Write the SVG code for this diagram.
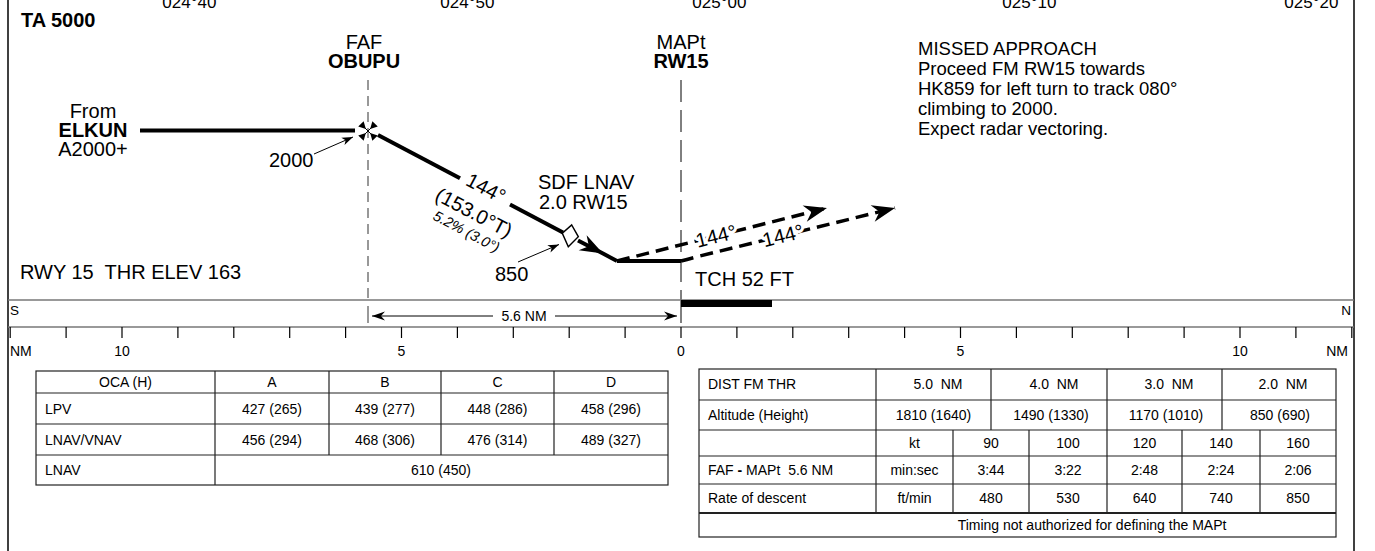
<svg xmlns="http://www.w3.org/2000/svg" width="1375" height="551" viewBox="0 0 1375 551">
<style>
text{font-family:"Liberation Sans",Arial,sans-serif;fill:#000}
.lab{font-size:20px}
.b{font-weight:bold}
.coord{font-size:17px;text-anchor:middle}
.ma{font-size:18.5px}
.sc{font-size:14px}
.t{font-size:14px}
.m{text-anchor:middle}
.halo{paint-order:stroke;stroke:#fff;stroke-width:6px;stroke-linejoin:round}
.tbl{fill:none;stroke:#222;stroke-width:1.2}
.thick{fill:none;stroke:#000;stroke-width:4}
.dash{fill:none;stroke:#000;stroke-width:3.5;stroke-dasharray:13 7}
.thin{fill:none;stroke:#000;stroke-width:1}
.gray{fill:none;stroke:#777;stroke-width:1.5}
</style>
<defs>
<marker id="ah" markerUnits="userSpaceOnUse" markerWidth="30" markerHeight="20" viewBox="-24 -10 26 20" refX="0" refY="0" orient="auto"><path d="M0,0 L-23,-8.5 L-16,0 L-23,8.5 Z" fill="#000"/></marker>
<marker id="as" markerUnits="userSpaceOnUse" markerWidth="14" markerHeight="10" viewBox="-12 -5 13 10" refX="0" refY="0" orient="auto"><path d="M0,0 L-11,-4 L-8,0 L-11,4 Z" fill="#000"/></marker>
<marker id="ad" markerUnits="userSpaceOnUse" markerWidth="16" markerHeight="10" viewBox="-14 -5 15 10" refX="0" refY="0" orient="auto-start-reverse"><path d="M0,0 L-13,-4.5 L-9,0 L-13,4.5 Z" fill="#000"/></marker>
<g id="ftri"><path d="M-3,0 L-10,-3.8 L-10,3.8 Z" fill="#000"/></g>
</defs>

<g id="frame">
<line x1="8" y1="0" x2="8" y2="551" stroke="#000" stroke-width="1.5"/>
<line x1="1354" y1="0" x2="1354" y2="551" stroke="#000" stroke-width="1.5"/>
</g>

<g id="coords">
<text class="coord" x="191" y="8">024°40'</text>
<text class="coord" x="469" y="8">024°50'</text>
<text class="coord" x="721" y="8">025°00'</text>
<text class="coord" x="1031" y="8">025°10'</text>
<text class="coord" x="1313" y="8">025°20'</text>
</g>

<g id="ta"><text class="lab b" x="21" y="27">TA 5000</text></g>

<g id="connectors">
<line x1="368" y1="80" x2="368" y2="300" class="gray" stroke-dasharray="10 6"/>
<line x1="368" y1="306" x2="368" y2="323" class="gray"/>
<line x1="681" y1="80" x2="681" y2="300" class="thin" stroke-dasharray="22 8"/>
<line x1="681" y1="300" x2="681" y2="323" class="thin" stroke-width="1.5"/>
<line x1="140" y1="130.5" x2="355" y2="130.5" class="thick"/>
<line x1="314" y1="154" x2="353" y2="137" class="thin" marker-end="url(#as)"/>
<line x1="378" y1="135" x2="460" y2="178.2" class="thick"/>
<line x1="510" y1="204.6" x2="563" y2="232.5" class="thick"/>
<polyline points="578,240.4 603,253.6 617,261" class="thick" marker-mid="url(#ah)"/>
<line x1="617" y1="261" x2="681" y2="261" class="thick"/>
<line x1="518" y1="262" x2="559" y2="244.5" class="thin" marker-end="url(#as)"/>
<path d="M617,261 L827,208" class="dash" marker-end="url(#ah)"/>
<path d="M681,261 Q690,258.5 700,256 L895,208" class="dash" marker-end="url(#ah)"/>
</g>

<g id="faf">
<text class="lab m" x="364" y="49">FAF</text>
<text class="lab b m" x="364" y="68">OBUPU</text>
<g transform="translate(368,131)">
<line x1="-6" y1="-6" x2="6" y2="6" stroke="#000" stroke-width="1"/>
<line x1="-6" y1="6" x2="6" y2="-6" stroke="#000" stroke-width="1"/>
<use href="#ftri" transform="rotate(45)"/>
<use href="#ftri" transform="rotate(135)"/>
<use href="#ftri" transform="rotate(225)"/>
<use href="#ftri" transform="rotate(315)"/>
</g>
</g>

<g id="mapt">
<text class="lab m" x="681" y="49">MAPt</text>
<text class="lab b m" x="681" y="68">RW15</text>
</g>

<g id="from">
<text class="lab m" x="93" y="118">From</text>
<text class="lab b m" x="93" y="137">ELKUN</text>
<text class="lab m" x="93" y="156">A2000+</text>
</g>

<g id="alt2000"><text class="lab" x="269" y="167">2000</text></g>

<g id="descent-labels">
<g transform="translate(486,188) rotate(27.8)"><text class="lab m halo" x="0" y="7">144°</text></g>
<g transform="translate(474,212.5) rotate(27.8)"><text class="lab m" x="0" y="7">(153.0°T)</text></g>
<g transform="translate(466.5,231.5) rotate(27.8)"><text class="m" style="font-size:14.5px;font-style:italic" x="0" y="5">5.2% (3.0°)</text></g>
</g>

<g id="sdf">
<polygon points="571.7,225 578.3,236.7 568.3,246.7 562.3,233.3" fill="#fff" stroke="#000" stroke-width="1.5"/>
<text class="lab" x="538" y="189">SDF LNAV</text>
<text class="lab" x="539" y="209">2.0 RW15</text>
</g>

<g id="alt850"><text class="lab" x="495" y="281">850</text></g>

<g id="missed-labels">
<g transform="translate(716,236) rotate(-14.1)"><text class="lab m halo" x="0" y="7">144°</text></g>
<g transform="translate(783,235.5) rotate(-14)"><text class="lab m halo" x="0" y="7">144°</text></g>
</g>

<g id="tch"><text class="lab" x="695" y="286">TCH 52 FT</text></g>
<g id="rwy"><text class="lab" x="20" y="279" xml:space="preserve">RWY 15  THR ELEV 163</text></g>

<g id="missed-text">
<text class="ma" x="918" y="55">MISSED APPROACH</text>
<text class="ma" x="918" y="75">Proceed FM RW15 towards</text>
<text class="ma" x="918" y="95">HK859 for left turn to track 080°</text>
<text class="ma" x="918" y="115">climbing to 2000.</text>
<text class="ma" x="918" y="135">Expect radar vectoring.</text>
</g>

<g id="scale">
<line x1="8" y1="300" x2="1354" y2="300" stroke="#777" stroke-width="1.5"/>
<line x1="8" y1="327" x2="1354" y2="327" stroke="#777" stroke-width="1.5"/>
<rect x="681" y="300" width="91" height="7" fill="#000"/>
<text style="font-size:13.5px" x="10" y="315">S</text>
<text style="font-size:13.5px;text-anchor:end" x="1351" y="315">N</text>
<line x1="372" y1="316" x2="493" y2="316" class="thin" marker-start="url(#ad)"/>
<line x1="555" y1="316" x2="677" y2="316" class="thin" marker-end="url(#ad)"/>
<text class="sc m" x="524" y="321">5.6 NM</text>
<path d="M10.2,327v11 M66.1,327v11 M122,327v11 M177.9,327v11 M233.8,327v11 M289.7,327v11 M345.6,327v11 M401.5,327v11 M457.4,327v11 M513.3,327v11 M569.2,327v11 M625.1,327v11 M681,327v11 M736.9,327v11 M792.8,327v11 M848.7,327v11 M904.6,327v11 M960.5,327v11 M1016.4,327v11 M1072.3,327v11 M1128.2,327v11 M1184.1,327v11 M1240,327v11 M1295.9,327v11 M1351.8,327v11" stroke="#000" stroke-width="1.2" fill="none"/>
<text class="sc" x="10" y="356">NM</text>
<text class="sc m" x="122" y="356">10</text>
<text class="sc m" x="401.5" y="356">5</text>
<text class="sc m" x="681" y="356">0</text>
<text class="sc m" x="960.5" y="356">5</text>
<text class="sc m" x="1240" y="356">10</text>
<text class="sc" style="text-anchor:end" x="1348" y="356">NM</text>
</g>

<g id="oca-table">
<rect x="36" y="371" width="632" height="114" class="tbl"/>
<path d="M36,393H668 M36,424H668 M36,455H668 M215,371V485 M329,371V455 M441,371V455 M554,371V455" class="tbl"/>
<text class="t m" x="125.5" y="387">OCA (H)</text>
<text class="t m" x="272" y="387">A</text>
<text class="t m" x="385" y="387">B</text>
<text class="t m" x="497.5" y="387">C</text>
<text class="t m" x="611" y="387">D</text>
<text class="t" x="45" y="414">LPV</text>
<text class="t m" x="272" y="414">427 (265)</text>
<text class="t m" x="385" y="414">439 (277)</text>
<text class="t m" x="497.5" y="414">448 (286)</text>
<text class="t m" x="611" y="414">458 (296)</text>
<text class="t" x="45" y="445">LNAV/VNAV</text>
<text class="t m" x="272" y="445">456 (294)</text>
<text class="t m" x="385" y="445">468 (306)</text>
<text class="t m" x="497.5" y="445">476 (314)</text>
<text class="t m" x="611" y="445">489 (327)</text>
<text class="t" x="45" y="475">LNAV</text>
<text class="t m" x="441" y="475">610 (450)</text>
</g>

<g id="dist-table">
<rect x="699" y="369" width="637" height="168" class="tbl"/>
<path d="M699,400H1336 M699,430H1336 M699,456H1336 M699,484H1336 M876,369V513 M991,369V430 M1107,369V513 M1222,369V430 M953,430V513 M1029,430V513 M1182,430V513 M1260,430V513" class="tbl"/>
<line x1="699" y1="513" x2="1336" y2="513" stroke="#222" stroke-width="2"/>
<text class="t" x="708" y="389">DIST FM THR</text>
<text class="t m" x="938" y="389" xml:space="preserve">5.0  NM</text>
<text class="t m" x="1054" y="389" xml:space="preserve">4.0  NM</text>
<text class="t m" x="1169" y="389" xml:space="preserve">3.0  NM</text>
<text class="t m" x="1283" y="389" xml:space="preserve">2.0  NM</text>
<text class="t" x="708" y="420">Altitude (Height)</text>
<text class="t m" x="933.5" y="420">1810 (1640)</text>
<text class="t m" x="1051" y="420">1490 (1330)</text>
<text class="t m" x="1166" y="420">1170 (1010)</text>
<text class="t m" x="1280" y="420">850 (690)</text>
<text class="t m" x="914.5" y="448">kt</text>
<text class="t m" x="991" y="448">90</text>
<text class="t m" x="1068" y="448">100</text>
<text class="t m" x="1144.5" y="448">120</text>
<text class="t m" x="1221" y="448">140</text>
<text class="t m" x="1298" y="448">160</text>
<text class="t" x="708" y="475" xml:space="preserve">FAF <tspan font-weight="bold">-</tspan> MAPt  5.6 NM</text>
<text class="t m" x="914.5" y="475">min:sec</text>
<text class="t m" x="991" y="475">3:44</text>
<text class="t m" x="1068" y="475">3:22</text>
<text class="t m" x="1144.5" y="475">2:48</text>
<text class="t m" x="1221" y="475">2:24</text>
<text class="t m" x="1298" y="475">2:06</text>
<text class="t" x="708" y="503">Rate of descent</text>
<text class="t m" x="914.5" y="503">ft/min</text>
<text class="t m" x="991" y="503">480</text>
<text class="t m" x="1068" y="503">530</text>
<text class="t m" x="1144.5" y="503">640</text>
<text class="t m" x="1221" y="503">740</text>
<text class="t m" x="1298" y="503">850</text>
<text class="t m" x="1092" y="530">Timing not authorized for defining the MAPt</text>
</g>
</svg>
